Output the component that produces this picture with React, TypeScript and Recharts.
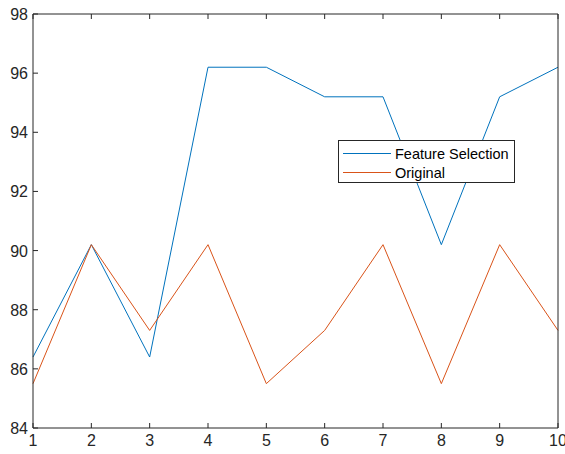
import React from 'react';
import { LineChart, Line, XAxis, YAxis } from 'recharts';

const runs = [1, 2, 3, 4, 5, 6, 7, 8, 9, 10];
const featureSelection = [86.4, 90.2, 86.4, 96.2, 96.2, 95.2, 95.2, 90.2, 95.2, 96.2];
const original = [85.5, 90.2, 87.3, 90.2, 85.5, 87.3, 90.2, 85.5, 90.2, 87.3];
const yTicks = [84, 86, 88, 90, 92, 94, 96, 98];

const series = [
  { key: 'fs', name: 'Feature Selection', color: '#0072BD' },
  { key: 'orig', name: 'Original', color: '#D95319' },
];

const data = runs.map((r, i) => ({ run: r, fs: featureSelection[i], orig: original[i] }));

const AX = '#262626';
const FONT = '"Liberation Sans", Arial, sans-serif';

const BottomTick = (props: any) => {
  const { x, y, payload } = props;
  return (
    <g>
      <line x1={x} x2={x} y1={y} y2={y - 5} stroke={AX} />
      <text x={x} y={y + 18} textAnchor="middle" fontSize={16} fill={AX} fontFamily={FONT}>
        {payload.value}
      </text>
    </g>
  );
};

const TopTick = (props: any) => {
  const { x, y } = props;
  return <line x1={x} x2={x} y1={y} y2={y + 5} stroke={AX} />;
};

const LeftTick = (props: any) => {
  const { x, y, payload } = props;
  return (
    <g>
      <line x1={x} x2={x + 5} y1={y} y2={y} stroke={AX} />
      <text x={x - 5} y={y + 6} textAnchor="end" fontSize={16} fill={AX} fontFamily={FONT}>
        {payload.value}
      </text>
    </g>
  );
};

const RightTick = (props: any) => {
  const { x, y } = props;
  return <line x1={x} x2={x - 5} y1={y} y2={y} stroke={AX} />;
};

const LegendBox = () => (
  <div
    style={{
      position: 'absolute',
      left: 338,
      top: 140,
      border: '1px solid #262626',
      background: '#fff',
      width: 177,
      height: 43,
      boxSizing: 'border-box',
      fontFamily: FONT,
      fontSize: 14.5,
      color: '#000',
      padding: '3px 0 0 4px',
    }}
  >
    {series.map((it) => (
      <div key={it.name} style={{ display: 'flex', alignItems: 'center', height: 19 }}>
        <div style={{ width: 48, height: 0, borderTop: `1px solid ${it.color}`, marginRight: 4 }} />
        <span>{it.name}</span>
      </div>
    ))}
  </div>
);

export default function App() {
  return (
    <div style={{ position: 'absolute', left: 0, top: 0, width: 565, height: 454, background: '#fff' }}>
      <LineChart width={565} height={454} data={data} margin={{ top: 13, right: 6, bottom: 0, left: 0 }}>
        <XAxis
          xAxisId="b"
          dataKey="run"
          type="number"
          domain={[1, 10]}
          ticks={runs}
          height={26}
          tickSize={0}
          tickMargin={0}
          tickLine={false}
          axisLine={{ stroke: AX }}
          tick={<BottomTick />}
          interval={0}
        />
        <XAxis
          xAxisId="t"
          orientation="top"
          dataKey="run"
          type="number"
          domain={[1, 10]}
          ticks={runs}
          height={1}
          tickSize={0}
          tickMargin={0}
          tickLine={false}
          axisLine={{ stroke: AX }}
          tick={<TopTick />}
          interval={0}
        />
        <YAxis
          yAxisId="l"
          type="number"
          domain={[84, 98]}
          ticks={yTicks}
          width={33}
          tickSize={0}
          tickMargin={0}
          tickLine={false}
          axisLine={{ stroke: AX }}
          tick={<LeftTick />}
          interval={0}
        />
        <YAxis
          yAxisId="r"
          orientation="right"
          type="number"
          domain={[84, 98]}
          ticks={yTicks}
          width={1}
          tickSize={0}
          tickMargin={0}
          tickLine={false}
          axisLine={{ stroke: AX }}
          tick={<RightTick />}
          interval={0}
        />
        {series.map((s) => (
          <Line
            key={s.key}
            xAxisId="b"
            yAxisId="l"
            dataKey={s.key}
            name={s.name}
            stroke={s.color}
            strokeWidth={1}
            dot={false}
            isAnimationActive={false}
          />
        ))}
      </LineChart>
      <LegendBox />
    </div>
  );
}
